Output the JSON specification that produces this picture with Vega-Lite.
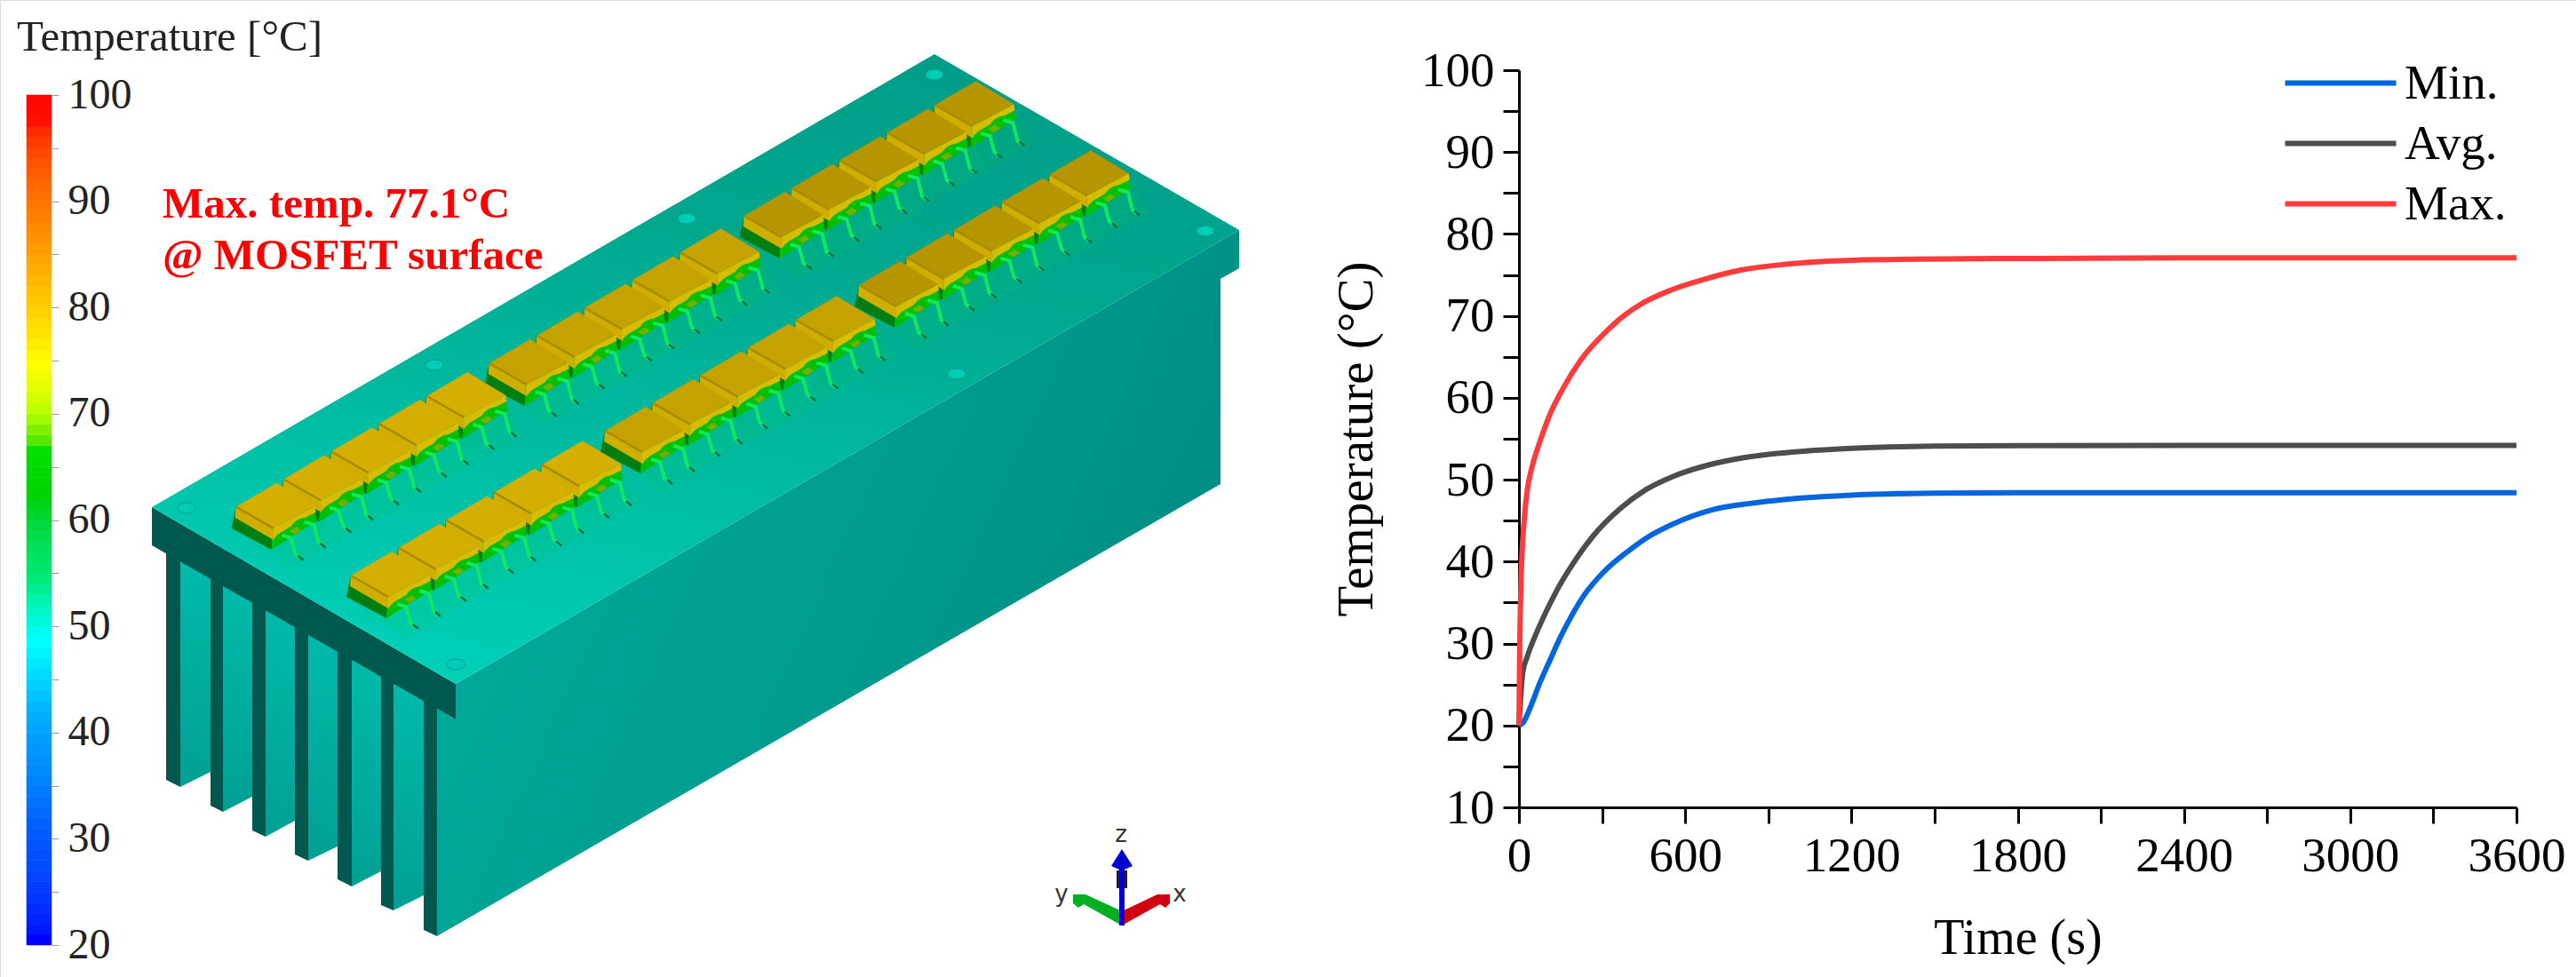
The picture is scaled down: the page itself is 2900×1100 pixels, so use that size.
{"$schema":"https://vega.github.io/schema/vega-lite/v6.json","width":2900,"height":1100,"padding":0,"autosize":{"type":"none"},"background":"white",
"datasets":{
"poly":[
{"id":"f1","part":"fin","i":0,"x":203,"y":628},{"id":"f1","part":"fin","i":1,"x":237,"y":648},{"id":"f1","part":"fin","i":2,"x":237,"y":869},{"id":"f1","part":"fin","i":3,"x":203,"y":886},
{"id":"f2","part":"fin","i":0,"x":251,"y":656},{"id":"f2","part":"fin","i":1,"x":284,"y":675},{"id":"f2","part":"fin","i":2,"x":284,"y":897},{"id":"f2","part":"fin","i":3,"x":251,"y":914},
{"id":"f3","part":"fin","i":0,"x":299,"y":684},{"id":"f3","part":"fin","i":1,"x":332,"y":703},{"id":"f3","part":"fin","i":2,"x":332,"y":924},{"id":"f3","part":"fin","i":3,"x":299,"y":942},
{"id":"f4","part":"fin","i":0,"x":347,"y":712},{"id":"f4","part":"fin","i":1,"x":380,"y":731},{"id":"f4","part":"fin","i":2,"x":380,"y":953},{"id":"f4","part":"fin","i":3,"x":347,"y":969},
{"id":"f5","part":"fin","i":0,"x":396,"y":740},{"id":"f5","part":"fin","i":1,"x":429,"y":759},{"id":"f5","part":"fin","i":2,"x":429,"y":981},{"id":"f5","part":"fin","i":3,"x":396,"y":998},
{"id":"f6","part":"fin","i":0,"x":443,"y":767},{"id":"f6","part":"fin","i":1,"x":477,"y":787},{"id":"f6","part":"fin","i":2,"x":477,"y":1008},{"id":"f6","part":"fin","i":3,"x":443,"y":1025},
{"id":"s1","part":"strip","i":0,"x":187,"y":610},{"id":"s1","part":"strip","i":1,"x":203,"y":620},{"id":"s1","part":"strip","i":2,"x":203,"y":886},{"id":"s1","part":"strip","i":3,"x":187,"y":878},
{"id":"s2","part":"strip","i":0,"x":237,"y":640},{"id":"s2","part":"strip","i":1,"x":251,"y":650},{"id":"s2","part":"strip","i":2,"x":251,"y":914},{"id":"s2","part":"strip","i":3,"x":237,"y":907},
{"id":"s3","part":"strip","i":0,"x":284,"y":670},{"id":"s3","part":"strip","i":1,"x":299,"y":680},{"id":"s3","part":"strip","i":2,"x":299,"y":942},{"id":"s3","part":"strip","i":3,"x":284,"y":935},
{"id":"s4","part":"strip","i":0,"x":332,"y":695},{"id":"s4","part":"strip","i":1,"x":347,"y":705},{"id":"s4","part":"strip","i":2,"x":347,"y":969},{"id":"s4","part":"strip","i":3,"x":332,"y":962},
{"id":"s5","part":"strip","i":0,"x":380,"y":725},{"id":"s5","part":"strip","i":1,"x":396,"y":735},{"id":"s5","part":"strip","i":2,"x":396,"y":998},{"id":"s5","part":"strip","i":3,"x":380,"y":990},
{"id":"s6","part":"strip","i":0,"x":429,"y":755},{"id":"s6","part":"strip","i":1,"x":443,"y":765},{"id":"s6","part":"strip","i":2,"x":443,"y":1025},{"id":"s6","part":"strip","i":3,"x":429,"y":1019},
{"id":"s7","part":"strip","i":0,"x":477,"y":780},{"id":"s7","part":"strip","i":1,"x":492,"y":790},{"id":"s7","part":"strip","i":2,"x":492,"y":1054},{"id":"s7","part":"strip","i":3,"x":477,"y":1047},
{"id":"b","part":"body","i":0,"x":513,"y":770},{"id":"b","part":"body","i":1,"x":1395,"y":259},{"id":"b","part":"body","i":2,"x":1395,"y":302},{"id":"b","part":"body","i":3,"x":1374,"y":314},{"id":"b","part":"body","i":4,"x":1374,"y":545},{"id":"b","part":"body","i":5,"x":492,"y":1054},{"id":"b","part":"body","i":6,"x":492,"y":798},{"id":"b","part":"body","i":7,"x":513,"y":810},
{"id":"p","part":"plate","i":0,"x":171,"y":571},{"id":"p","part":"plate","i":1,"x":513,"y":770},{"id":"p","part":"plate","i":2,"x":513,"y":810},{"id":"p","part":"plate","i":3,"x":171,"y":614},
{"id":"t","part":"top","i":0,"x":171,"y":571},{"id":"t","part":"top","i":1,"x":1052,"y":61},{"id":"t","part":"top","i":2,"x":1395,"y":259},{"id":"t","part":"top","i":3,"x":513,"y":770},
{"id":"ay","part":"ygreen","i":0,"x":1208,"y":1007},{"id":"ay","part":"ygreen","i":1,"x":1222,"y":1007},{"id":"ay","part":"ygreen","i":2,"x":1261,"y":1025},{"id":"ay","part":"ygreen","i":3,"x":1263,"y":1042},{"id":"ay","part":"ygreen","i":4,"x":1220,"y":1018},{"id":"ay","part":"ygreen","i":5,"x":1214,"y":1022},{"id":"ay","part":"ygreen","i":6,"x":1208,"y":1017},
{"id":"ax","part":"xred","i":0,"x":1317,"y":1007},{"id":"ax","part":"xred","i":1,"x":1303,"y":1007},{"id":"ax","part":"xred","i":2,"x":1265,"y":1025},{"id":"ax","part":"xred","i":3,"x":1263,"y":1042},{"id":"ax","part":"xred","i":4,"x":1306,"y":1018},{"id":"ax","part":"xred","i":5,"x":1312,"y":1022},{"id":"ax","part":"xred","i":6,"x":1317,"y":1017},
{"id":"ad","part":"zdark","i":0,"x":1257,"y":980},{"id":"ad","part":"zdark","i":1,"x":1269,"y":980},{"id":"ad","part":"zdark","i":2,"x":1269,"y":1000},{"id":"ad","part":"zdark","i":3,"x":1257,"y":1000},
{"id":"az","part":"zblue","i":0,"x":1263,"y":956},{"id":"az","part":"zblue","i":1,"x":1275,"y":975},{"id":"az","part":"zblue","i":2,"x":1266,"y":979},{"id":"az","part":"zblue","i":3,"x":1266,"y":1042},{"id":"az","part":"zblue","i":4,"x":1260,"y":1042},{"id":"az","part":"zblue","i":5,"x":1260,"y":979},{"id":"az","part":"zblue","i":6,"x":1251,"y":975}
],
"modules":[
{"m":"A5","row":"near","x":480.3,"y":445.9},{"m":"A4","row":"near","x":426.6,"y":477.1},{"m":"A3","row":"near","x":372.9,"y":508.3},{"m":"A2","row":"near","x":319.2,"y":539.5},{"m":"A1","row":"near","x":265.5,"y":570.7},
{"m":"B5","row":"mid","x":765.5,"y":284.2},{"m":"B4","row":"mid","x":711.8,"y":315.4},{"m":"B3","row":"mid","x":658.1,"y":346.6},{"m":"B2","row":"mid","x":604.4,"y":377.8},{"m":"B1","row":"mid","x":550.7,"y":409},
{"m":"D5","row":"far","x":1052.4,"y":118.2},{"m":"D4","row":"far","x":998.7,"y":149.4},{"m":"D3","row":"far","x":945,"y":180.6},{"m":"D2","row":"far","x":891.3,"y":211.8},{"m":"D1","row":"far","x":837.6,"y":243},
{"m":"C5","row":"near","x":609.8,"y":523.2},{"m":"C4","row":"near","x":556.1,"y":554.4},{"m":"C3","row":"near","x":502.4,"y":585.6},{"m":"C2","row":"near","x":448.7,"y":616.8},{"m":"C1","row":"near","x":395,"y":648},
{"m":"E5","row":"mid","x":895.8,"y":360.2},{"m":"E4","row":"mid","x":842.1,"y":391.4},{"m":"E3","row":"mid","x":788.4,"y":422.6},{"m":"E2","row":"mid","x":734.7,"y":453.8},{"m":"E1","row":"mid","x":681,"y":485},
{"m":"F5","row":"far","x":1181.8,"y":196.2},{"m":"F4","row":"far","x":1128.1,"y":227.4},{"m":"F3","row":"far","x":1074.4,"y":258.6},{"m":"F2","row":"far","x":1020.7,"y":289.8},{"m":"F1","row":"far","x":967,"y":321}
],
"holes":[{"x":210,"y":572},{"x":513,"y":748},{"x":489,"y":411},{"x":773,"y":246},{"x":1052,"y":84},{"x":1357,"y":260},{"x":1077,"y":421}],
"curves":[
{"s":"Min.","t":0,"T":20},{"s":"Min.","t":14,"T":20.3},{"s":"Min.","t":41,"T":22.2},{"s":"Min.","t":73,"T":25},{"s":"Min.","t":115,"T":28.2},{"s":"Min.","t":150,"T":30.8},{"s":"Min.","t":182,"T":32.9},{"s":"Min.","t":235,"T":35.9},{"s":"Min.","t":280,"T":37.8},{"s":"Min.","t":320,"T":39.2},{"s":"Min.","t":395,"T":41.3},{"s":"Min.","t":470,"T":43.1},{"s":"Min.","t":556,"T":44.6},{"s":"Min.","t":705,"T":46.4},{"s":"Min.","t":833,"T":47.1},{"s":"Min.","t":962,"T":47.6},{"s":"Min.","t":1184,"T":48.1},{"s":"Min.","t":1500,"T":48.35},{"s":"Min.","t":1800,"T":48.4},{"s":"Min.","t":2400,"T":48.4},{"s":"Min.","t":3600,"T":48.4},
{"s":"Avg.","t":0,"T":20},{"s":"Avg.","t":14,"T":26.5},{"s":"Avg.","t":30,"T":28.4},{"s":"Avg.","t":62,"T":31.2},{"s":"Avg.","t":91,"T":33.4},{"s":"Avg.","t":117,"T":35.2},{"s":"Avg.","t":150,"T":37.3},{"s":"Avg.","t":192,"T":39.6},{"s":"Avg.","t":267,"T":43.1},{"s":"Avg.","t":363,"T":46.4},{"s":"Avg.","t":459,"T":48.8},{"s":"Avg.","t":556,"T":50.4},{"s":"Avg.","t":684,"T":51.8},{"s":"Avg.","t":812,"T":52.7},{"s":"Avg.","t":962,"T":53.3},{"s":"Avg.","t":1184,"T":53.8},{"s":"Avg.","t":1500,"T":54.1},{"s":"Avg.","t":1800,"T":54.15},{"s":"Avg.","t":2400,"T":54.2},{"s":"Avg.","t":3600,"T":54.2},
{"s":"Max.","t":0,"T":20},{"s":"Max.","t":3,"T":30},{"s":"Max.","t":8,"T":38},{"s":"Max.","t":19,"T":45.1},{"s":"Max.","t":32,"T":49.2},{"s":"Max.","t":43,"T":51},{"s":"Max.","t":75,"T":54.6},{"s":"Max.","t":107,"T":57.6},{"s":"Max.","t":160,"T":61.2},{"s":"Max.","t":224,"T":64.65},{"s":"Max.","t":320,"T":68.26},{"s":"Max.","t":374,"T":69.9},{"s":"Max.","t":438,"T":71.4},{"s":"Max.","t":545,"T":73.1},{"s":"Max.","t":662,"T":74.4},{"s":"Max.","t":801,"T":75.6},{"s":"Max.","t":962,"T":76.3},{"s":"Max.","t":1208,"T":76.8},{"s":"Max.","t":1730,"T":77},{"s":"Max.","t":2400,"T":77.1},{"s":"Max.","t":3600,"T":77.1}
],
"bar":[{"v":20,"v2":21},{"v":21,"v2":22},{"v":22,"v2":23},{"v":23,"v2":24},{"v":24,"v2":25},{"v":25,"v2":26},{"v":26,"v2":27},{"v":27,"v2":28},{"v":28,"v2":29},{"v":29,"v2":30},{"v":30,"v2":31},{"v":31,"v2":32},{"v":32,"v2":33},{"v":33,"v2":34},{"v":34,"v2":35},{"v":35,"v2":36},{"v":36,"v2":37},{"v":37,"v2":38},{"v":38,"v2":39},{"v":39,"v2":40},{"v":40,"v2":41},{"v":41,"v2":42},{"v":42,"v2":43},{"v":43,"v2":44},{"v":44,"v2":45},{"v":45,"v2":46},{"v":46,"v2":47},{"v":47,"v2":48},{"v":48,"v2":49},{"v":49,"v2":50},{"v":50,"v2":51},{"v":51,"v2":52},{"v":52,"v2":53},{"v":53,"v2":54},{"v":54,"v2":55},{"v":55,"v2":56},{"v":56,"v2":57},{"v":57,"v2":58},{"v":58,"v2":59},{"v":59,"v2":60},{"v":60,"v2":61},{"v":61,"v2":62},{"v":62,"v2":63},{"v":63,"v2":64},{"v":64,"v2":65},{"v":65,"v2":66},{"v":66,"v2":67},{"v":67,"v2":68},{"v":68,"v2":69},{"v":69,"v2":70},{"v":70,"v2":71},{"v":71,"v2":72},{"v":72,"v2":73},{"v":73,"v2":74},{"v":74,"v2":75},{"v":75,"v2":76},{"v":76,"v2":77},{"v":77,"v2":78},{"v":78,"v2":79},{"v":79,"v2":80},{"v":80,"v2":81},{"v":81,"v2":82},{"v":82,"v2":83},{"v":83,"v2":84},{"v":84,"v2":85},{"v":85,"v2":86},{"v":86,"v2":87},{"v":87,"v2":88},{"v":88,"v2":89},{"v":89,"v2":90},{"v":90,"v2":91},{"v":91,"v2":92},{"v":92,"v2":93},{"v":93,"v2":94},{"v":94,"v2":95},{"v":95,"v2":96},{"v":96,"v2":97},{"v":97,"v2":98},{"v":98,"v2":99},{"v":99,"v2":100}]
},
"resolve":{"scale":{"x":"independent","y":"independent","color":"independent"},"axis":{"x":"independent","y":"independent"}},
"layer":[
{"encoding":{"x":{"field":"x","type":"quantitative","scale":{"domain":[0,2900],"range":[0,2900],"nice":false,"zero":false},"axis":null},"y":{"field":"y","type":"quantitative","scale":{"domain":[0,1100],"range":[0,1100],"nice":false,"zero":false},"axis":null}},
"layer":[
{"data":{"name":"poly"},"transform":[{"filter":"datum.part==='fin'"}],"mark":{"type":"line","strokeWidth":0,"fill":{"gradient":"linear","x1":0,"y1":0,"x2":0,"y2":1,"stops":[{"offset":0,"color":"#00BBAA"},{"offset":1,"color":"#00A094"}]}},"encoding":{"detail":{"field":"id"},"order":{"field":"i"}}},
{"data":{"name":"poly"},"transform":[{"filter":"datum.part==='strip'"}],"mark":{"type":"line","strokeWidth":0,"fill":"#00584F"},"encoding":{"detail":{"field":"id"},"order":{"field":"i"}}},
{"data":{"name":"poly"},"transform":[{"filter":"datum.part==='body'"}],"mark":{"type":"line","strokeWidth":0,"fill":{"gradient":"linear","x1":0,"y1":0.3,"x2":1,"y2":0.7,"stops":[{"offset":0,"color":"#00AE9C"},{"offset":0.5,"color":"#009C90"},{"offset":1,"color":"#008880"}]}},"encoding":{"detail":{"field":"id"},"order":{"field":"i"}}},
{"data":{"name":"poly"},"transform":[{"filter":"datum.part==='plate'"}],"mark":{"type":"line","strokeWidth":0,"fill":"#00594F"},"encoding":{"detail":{"field":"id"},"order":{"field":"i"}}},
{"data":{"name":"poly"},"transform":[{"filter":"datum.part==='top'"}],"mark":{"type":"line","strokeWidth":0,"fill":{"gradient":"linear","x1":0.3,"y1":1,"x2":0.62,"y2":0,"stops":[{"offset":0,"color":"#00D0B8"},{"offset":0.3,"color":"#00BFA6"},{"offset":0.7,"color":"#00A88E"},{"offset":1,"color":"#009E88"}]}},"encoding":{"detail":{"field":"id"},"order":{"field":"i"}}},
{"data":{"name":"holes"},"mark":{"type":"point","filled":true,"opacity":1,"size":4,"shape":"M-10,0A10,6 0 1,0 10,0A10,6 0 1,0 -10,0Z","color":"#00CDB5","stroke":"#009A88","strokeWidth":1}},
{"data":{"name":"modules"},"mark":{"type":"point","filled":true,"opacity":0.16,"size":4,"shape":"M-6,26L39,54L62,72L112,42L94,8Z","color":"#00C860"}},
{"data":{"name":"modules"},"mark":{"type":"point","filled":true,"opacity":1,"size":4,"shape":"M-5,24L40,48L42,24L0,0Z","color":"#007E12"}},
{"data":{"name":"modules"},"mark":{"type":"point","filled":true,"opacity":1,"size":4,"shape":"M40,48L42,30L89,4L91,16Z","color":"#00BE00"}},
{"data":{"name":"modules"},"mark":{"type":"point","filled":true,"opacity":1,"size":4,"shape":"M60,27L68,22L74,26L66,31Z","color":"#70B000"}},
{"data":{"name":"modules"},"mark":{"type":"point","filled":false,"opacity":1,"size":4,"strokeWidth":4,"shape":"M52,32L62,35L67,53L72,57M77,17L88,20L93,40L98,44","color":"#10E860"}},
{"data":{"name":"modules"},"mark":{"type":"point","filled":false,"opacity":1,"size":4,"strokeWidth":2.5,"shape":"M70,55L76,60M95,41L101,46","color":"#1E6E50"}},
{"data":{"name":"modules"},"mark":{"type":"point","filled":true,"opacity":1,"size":4,"shape":"M0,0L42,24L42,37L-1,12Z","color":"#D0AE00"}},
{"data":{"name":"modules"},"mark":{"type":"point","filled":true,"opacity":1,"size":4,"shape":"M42,24L89,-1L90,6L78,12Q68,13 62,22L50,29Q44,33 42,38Z","color":"#D8BC00"}},
{"data":{"name":"modules"},"mark":{"type":"point","filled":true,"opacity":1,"size":4,"shape":"M0,0L46,-27L89,-1L42,24Z"},"encoding":{"color":{"field":"row","type":"nominal","legend":null,"scale":{"domain":["near","mid","far"],"range":["#D4AE00","#C4A200","#B69600"]}}}},
{"data":{"name":"modules"},"mark":{"type":"point","filled":false,"opacity":1,"size":4,"strokeWidth":2.5,"shape":"M0,0L42,24","color":"#A68C00"}},
{"data":{"name":"poly"},"transform":[{"filter":"datum.part==='ygreen'"}],"mark":{"type":"line","strokeWidth":0,"fill":"#00B020"},"encoding":{"detail":{"field":"id"},"order":{"field":"i"}}},
{"data":{"name":"poly"},"transform":[{"filter":"datum.part==='xred'"}],"mark":{"type":"line","strokeWidth":0,"fill":"#D00010"},"encoding":{"detail":{"field":"id"},"order":{"field":"i"}}},
{"data":{"name":"poly"},"transform":[{"filter":"datum.part==='zdark'"}],"mark":{"type":"line","strokeWidth":0,"fill":"#222222"},"encoding":{"detail":{"field":"id"},"order":{"field":"i"}}},
{"data":{"name":"poly"},"transform":[{"filter":"datum.part==='zblue'"}],"mark":{"type":"line","strokeWidth":0,"fill":"#0000D0"},"encoding":{"detail":{"field":"id"},"order":{"field":"i"}}},
{"data":{"values":[{"label":"Temperature [°C]","x":19,"y":42}]},"mark":{"type":"text","align":"left","baseline":"middle","font":"Liberation Serif","fontSize":49,"color":"#222222"},"encoding":{"text":{"field":"label"}}},
{"data":{"values":[{"label":"Max. temp. 77.1°C","x":183,"y":230},{"label":"@ MOSFET surface","x":183,"y":288}]},"mark":{"type":"text","align":"left","baseline":"middle","font":"Liberation Serif","fontWeight":"bold","fontSize":49,"color":"#FF0000"},"encoding":{"text":{"field":"label"}}},
{"data":{"values":[{"label":"z","x":1262,"y":940},{"label":"x","x":1328,"y":1007},{"label":"y","x":1195,"y":1007}]},"mark":{"type":"text","align":"center","baseline":"middle","font":"DejaVu Sans","fontSize":26,"color":"#333333"},"encoding":{"text":{"field":"label"}}}
]},
{"data":{"name":"bar"},"mark":{"type":"rect","strokeWidth":0.6},
"encoding":{"x":{"datum":0,"type":"quantitative","scale":{"domain":[0,1],"range":[30,58]},"axis":null},"x2":{"datum":1},
"y":{"field":"v","type":"quantitative","scale":{"domain":[20,100],"range":[1064,107],"nice":false,"zero":false},
"axis":{"orient":"right","offset":-2842,"title":null,"grid":false,"domain":false,"values":[20,25,30,35,40,45,50,55,60,65,70,75,80,85,90,95,100],"labelExpr":"datum.value%10===0?datum.label:''","labelFont":"Liberation Serif","labelFontSize":48,"labelColor":"#222222","labelAlign":"left","labelBaseline":"middle","labelPadding":10,"tickSize":8,"tickColor":"#999999","tickWidth":1,"labelOverlap":false,"labelFlush":false,"labelBound":false}},
"y2":{"field":"v2"},
"color":{"field":"v","type":"quantitative","legend":null,"scale":{"domain":[20,31,41.5,48,54,61.5,66,70,74,81,88,97,100],"range":["#0000FF","#0060FF","#00B0FF","#00FFFF","#00E878","#00D000","#00E000","#C0FF00","#FFFF00","#FFC000","#FF8000","#FF1000","#FF0000"]}},
"stroke":{"field":"v","type":"quantitative","legend":null,"scale":{"domain":[20,31,41.5,48,54,61.5,66,70,74,81,88,97,100],"range":["#0000FF","#0060FF","#00B0FF","#00FFFF","#00E878","#00D000","#00E000","#C0FF00","#FFFF00","#FFC000","#FF8000","#FF1000","#FF0000"]}}}},
{"data":{"name":"curves"},"mark":{"type":"line","strokeWidth":6,"interpolate":"monotone","clip":false},
"encoding":{
"x":{"field":"t","type":"quantitative","scale":{"domain":[0,3600],"range":[1710,2833],"nice":false,"zero":false},
"axis":{"orient":"bottom","offset":-191,"title":"Time (s)","titleFont":"Liberation Serif","titleFontSize":56,"titleFontWeight":"normal","titleColor":"black","titlePadding":38,"grid":false,"values":[0,300,600,900,1200,1500,1800,2100,2400,2700,3000,3300,3600],"labelExpr":"datum.value%600===0?datum.label:''","format":"d","labelFont":"Liberation Serif","labelFontSize":55,"labelColor":"black","labelPadding":10,"labelOverlap":false,"labelFlush":false,"labelBound":false,"domainColor":"black","domainWidth":3,"tickColor":"black","tickWidth":3,"tickSize":18,"encode":{"ticks":{"update":{"y2":{"signal":"datum.value%600===0?18:8"}}}}}},
"y":{"field":"T","type":"quantitative","scale":{"domain":[10,100],"range":[909,79],"nice":false,"zero":false},
"axis":{"orient":"left","offset":-1710,"title":"Temperature (°C)","titleFont":"Liberation Serif","titleFontSize":57,"titleFontWeight":"normal","titleColor":"black","titlePadding":43,"grid":false,"values":[10,15,20,25,30,35,40,45,50,55,60,65,70,75,80,85,90,95,100],"labelExpr":"datum.value%10===0?datum.label:''","labelFont":"Liberation Serif","labelFontSize":55,"labelColor":"black","labelPadding":10,"labelOverlap":false,"labelFlush":false,"labelBound":false,"domainColor":"black","domainWidth":3,"tickColor":"black","tickWidth":3,"tickSize":18,"encode":{"ticks":{"update":{"x2":{"signal":"datum.value%10===0?-18:-8"}}}}}},
"color":{"field":"s","type":"nominal","scale":{"domain":["Min.","Avg.","Max."],"range":["#0066E0","#4D4D4D","#FF3B3B"]},
"legend":{"orient":"none","legendX":2545,"legendY":66,"title":null,"symbolType":"M0,0H125","symbolSize":4,"symbolStrokeWidth":6,"labelFont":"Liberation Serif","labelFontSize":55,"labelColor":"black","labelOffset":107,"rowPadding":12,"padding":0}}}}
]}
